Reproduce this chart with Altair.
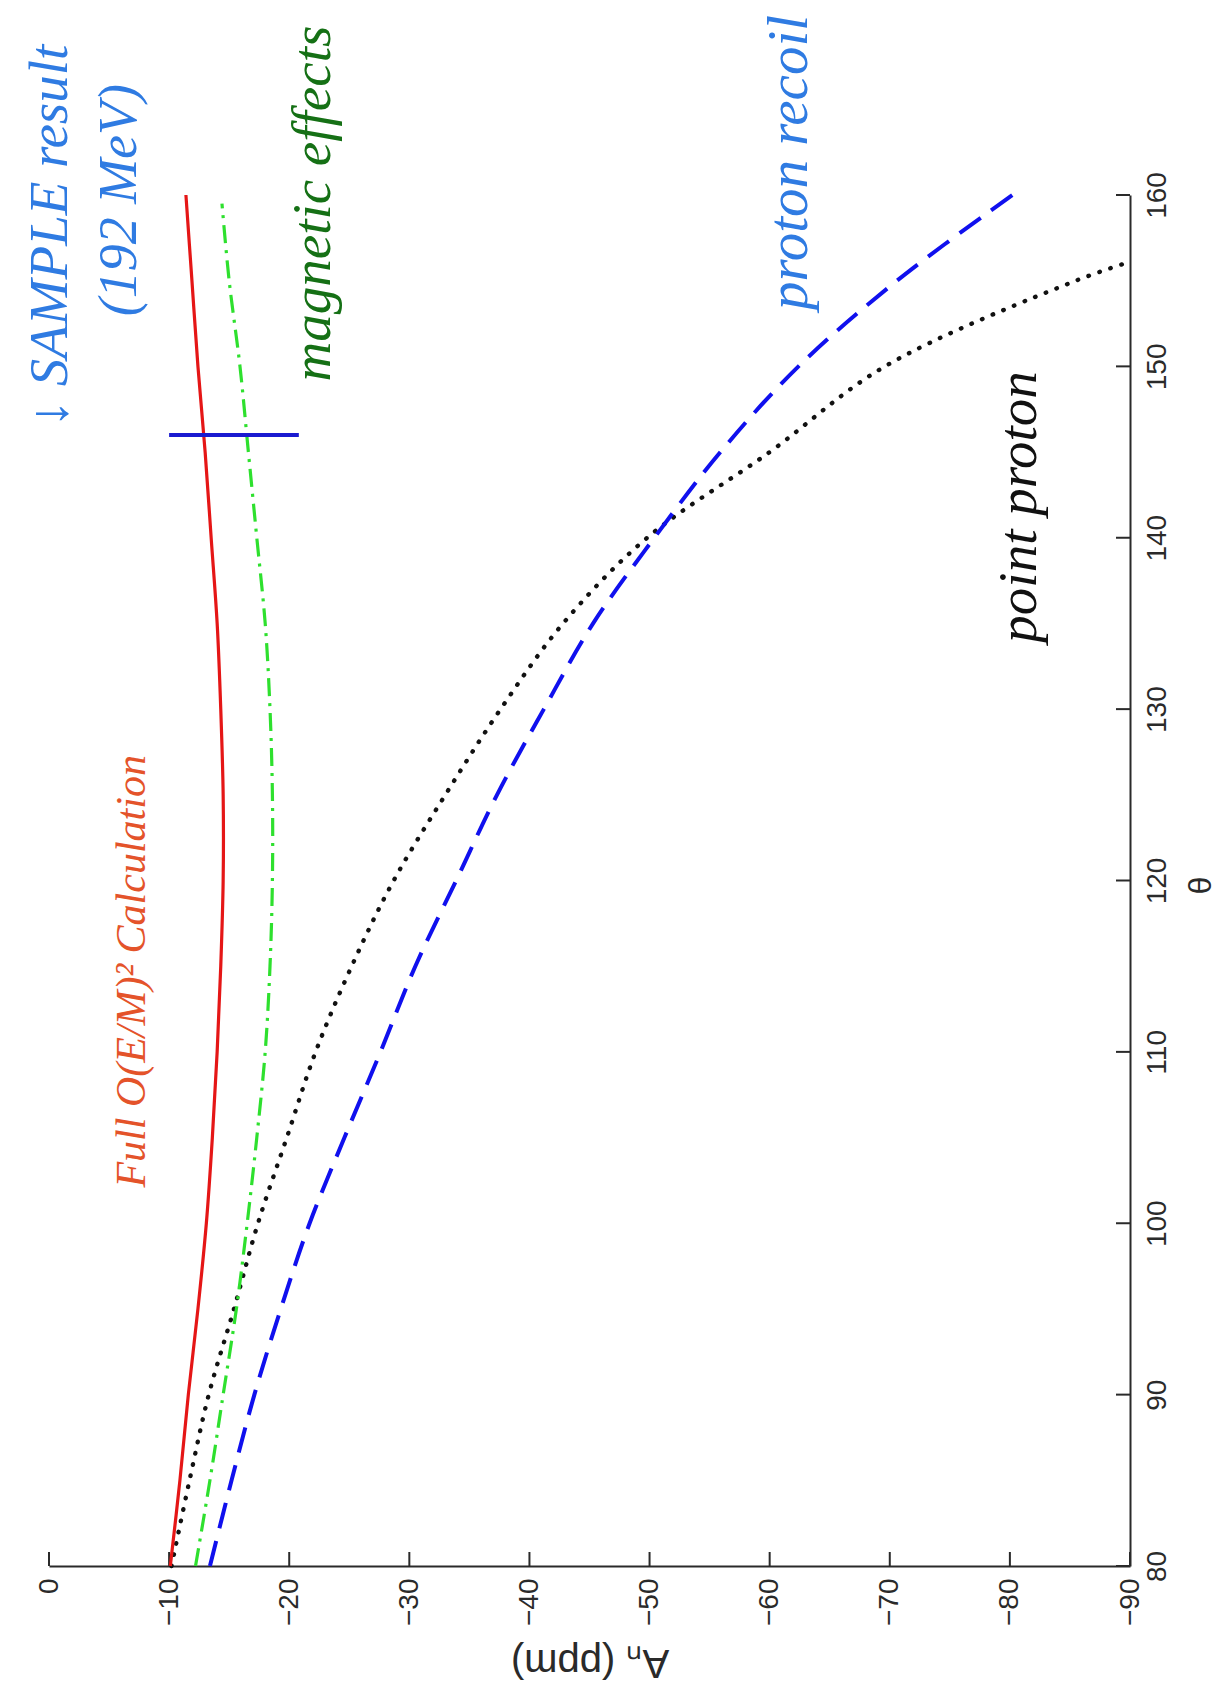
import altair as alt
import pandas as pd

# Scattering angle (deg) and asymmetry A_n (ppm) for each calculation
theta_full = [80, 85, 90, 95, 100, 105, 110, 115, 120, 125, 130, 135, 140, 145, 150, 155, 160]
a_full = [-10.1, -10.9, -11.6, -12.4, -13.1, -13.6, -14.0, -14.3, -14.5, -14.5, -14.3,
          -14.0, -13.5, -13.0, -12.4, -11.9, -11.4]

theta_mag = [80, 85, 90, 95, 100, 105, 110, 115, 120, 125, 130, 135, 140, 145, 150, 155, 159.5]
a_mag = [-12.2, -13.4, -14.5, -15.6, -16.5, -17.3, -18.0, -18.4, -18.6, -18.6, -18.4,
         -18.0, -17.3, -16.6, -15.9, -15.0, -14.4]

theta_recoil = [80, 85, 90, 95, 100, 105, 110, 115, 120, 125, 130, 135, 140, 145, 150, 155, 160]
a_recoil = [-13.4, -15.2, -17.1, -19.3, -21.7, -24.6, -27.6, -30.5, -33.9, -37.3, -41.2,
            -45.3, -50.4, -55.9, -62.4, -70.6, -80.2]

theta_point = [80, 85, 90, 95, 100, 105, 110, 115, 120, 125, 130, 135, 140, 145, 150, 155, 156.1]
a_point = [-10.2, -11.7, -13.3, -15.4, -17.4, -19.8, -22.2, -25.2, -28.7, -33.0, -37.6,
           -42.8, -49.8, -60.0, -69.6, -85.5, -90.0]

# SAMPLE measurement at 192 MeV
sample_theta = [146.0]
sample_value = [-15.4]
sample_error = [5.4]

# Axis ticks
a_ticks = [0, -10, -20, -30, -40, -50, -60, -70, -80, -90]
theta_ticks = [80, 90, 100, 110, 120, 130, 140, 150, 160]

# Curve labels, anchored in data coordinates (A_n, theta)
label_text = ["Full O(E/M)² Calculation", "↓ SAMPLE result", "(192 MeV)",
              "magnetic effects", "proton recoil", "point proton"]
label_a = [-6.9, -0.1, -5.9, -22.0, -61.7, -80.8]
label_theta = [114.7, 157.6, 159.7, 159.5, 161.9, 141.8]

W, H = 1081, 1371
AXIS_COLOR = "#2a2a2a"

x_scale = alt.Scale(domain=[0, -90], nice=False, zero=False)
y_scale = alt.Scale(domain=[80, 160], nice=False, zero=False)

x_axis = alt.Axis(
    values=a_ticks, ticks=False, grid=False, domainColor=AXIS_COLOR, domainWidth=2,
    labelAngle=270, labelAlign="right", labelBaseline="middle", labelFlush=False,
    labelOverlap=False, labelFont="Liberation Sans", labelFontSize=28,
    labelColor=AXIS_COLOR, labelPadding=12,
    title="Aₙ (ppm)", titleAngle=180, titleBaseline="middle", titleY=95,
    titleFont="Liberation Sans", titleFontSize=40, titleFontWeight="normal",
    titleColor=AXIS_COLOR,
)
y_axis = alt.Axis(
    orient="right", values=theta_ticks, ticks=False, grid=False,
    domainColor=AXIS_COLOR, domainWidth=2,
    labelAngle=270, labelAlign="center", labelBaseline="top", labelFlush=False,
    labelOverlap=False, labelFont="Liberation Sans", labelFontSize=28,
    labelColor=AXIS_COLOR, labelPadding=13,
    title="θ", titleAngle=270, titleBaseline="middle", titleX=70, titleY=690,
    titleFont="Liberation Sans", titleFontSize=32, titleFontWeight="normal",
    titleColor=AXIS_COLOR,
)


def enc_x(field="A"):
    return alt.X(f"{field}:Q", scale=x_scale, axis=x_axis)


def enc_y(field="theta"):
    return alt.Y(f"{field}:Q", scale=y_scale, axis=y_axis)


def curve(th, vals, color, width, dash=None):
    df = pd.DataFrame({"theta": th, "A": vals})
    opts = dict(color=color, strokeWidth=width, interpolate="catmull-rom")
    if dash:
        opts["strokeDash"] = dash
        opts["strokeCap"] = "round" if dash[0] <= 1 else "butt"
    return alt.Chart(df).mark_line(**opts).encode(
        x=enc_x(), y=enc_y(), order=alt.Order("theta:Q")
    )


point_line = curve(theta_point, a_point, "#111111", 4.4, [0.5, 11])
recoil_line = curve(theta_recoil, a_recoil, "#1010ee", 4, [26, 13])
mag_line = curve(theta_mag, a_mag, "#2ee02e", 3.2, [18, 7, 3, 7])
full_line = curve(theta_full, a_full, "#e51616", 3.2)

sample_df = pd.DataFrame({
    "theta": sample_theta,
    "lo": [v + e for v, e in zip(sample_value, sample_error)],
    "hi": [v - e for v, e in zip(sample_value, sample_error)],
})
sample_bar = alt.Chart(sample_df).mark_rule(color="#1a1ad0", strokeWidth=4).encode(
    x=enc_x("lo"), x2="hi:Q", y=enc_y()
)

# Inward-pointing tick marks on both axes
x_tick_df = pd.DataFrame({"A": a_ticks})
x_tick_marks = alt.Chart(x_tick_df).mark_rule(color=AXIS_COLOR, strokeWidth=2).encode(
    x=enc_x(), y=alt.value(H), y2=alt.value(H - 14)
)
y_tick_df = pd.DataFrame({"theta": theta_ticks})
y_tick_marks = alt.Chart(y_tick_df).mark_rule(color=AXIS_COLOR, strokeWidth=2).encode(
    y=enc_y(), x=alt.value(W), x2=alt.value(W - 14)
)

label_styles = [
    ("#e4532a", 42),
    ("#2f7be2", 55),
    ("#2f7be2", 54),
    ("#157015", 55),
    ("#2f7be2", 57),
    ("#111111", 55),
]
labels = []
for txt, a, th, (col, size) in zip(label_text, label_a, label_theta, label_styles):
    df = pd.DataFrame({"A": [a], "theta": [th], "label": [txt]})
    labels.append(
        alt.Chart(df).mark_text(
            angle=270, align="center", baseline="middle", font="Liberation Serif",
            fontStyle="italic", fontSize=size, color=col,
        ).encode(x=enc_x(), y=enc_y(), text="label:N")
    )

chart = alt.layer(
    x_tick_marks, y_tick_marks, point_line, recoil_line, mag_line, full_line,
    sample_bar, *labels,
).properties(
    width=W, height=H, autosize="none",
    padding={"left": 49, "top": 195, "right": 87, "bottom": 125},
    background="white",
).configure_view(strokeWidth=0)

chart.save("out.html", embed_options={"renderer": "svg", "actions": False})
